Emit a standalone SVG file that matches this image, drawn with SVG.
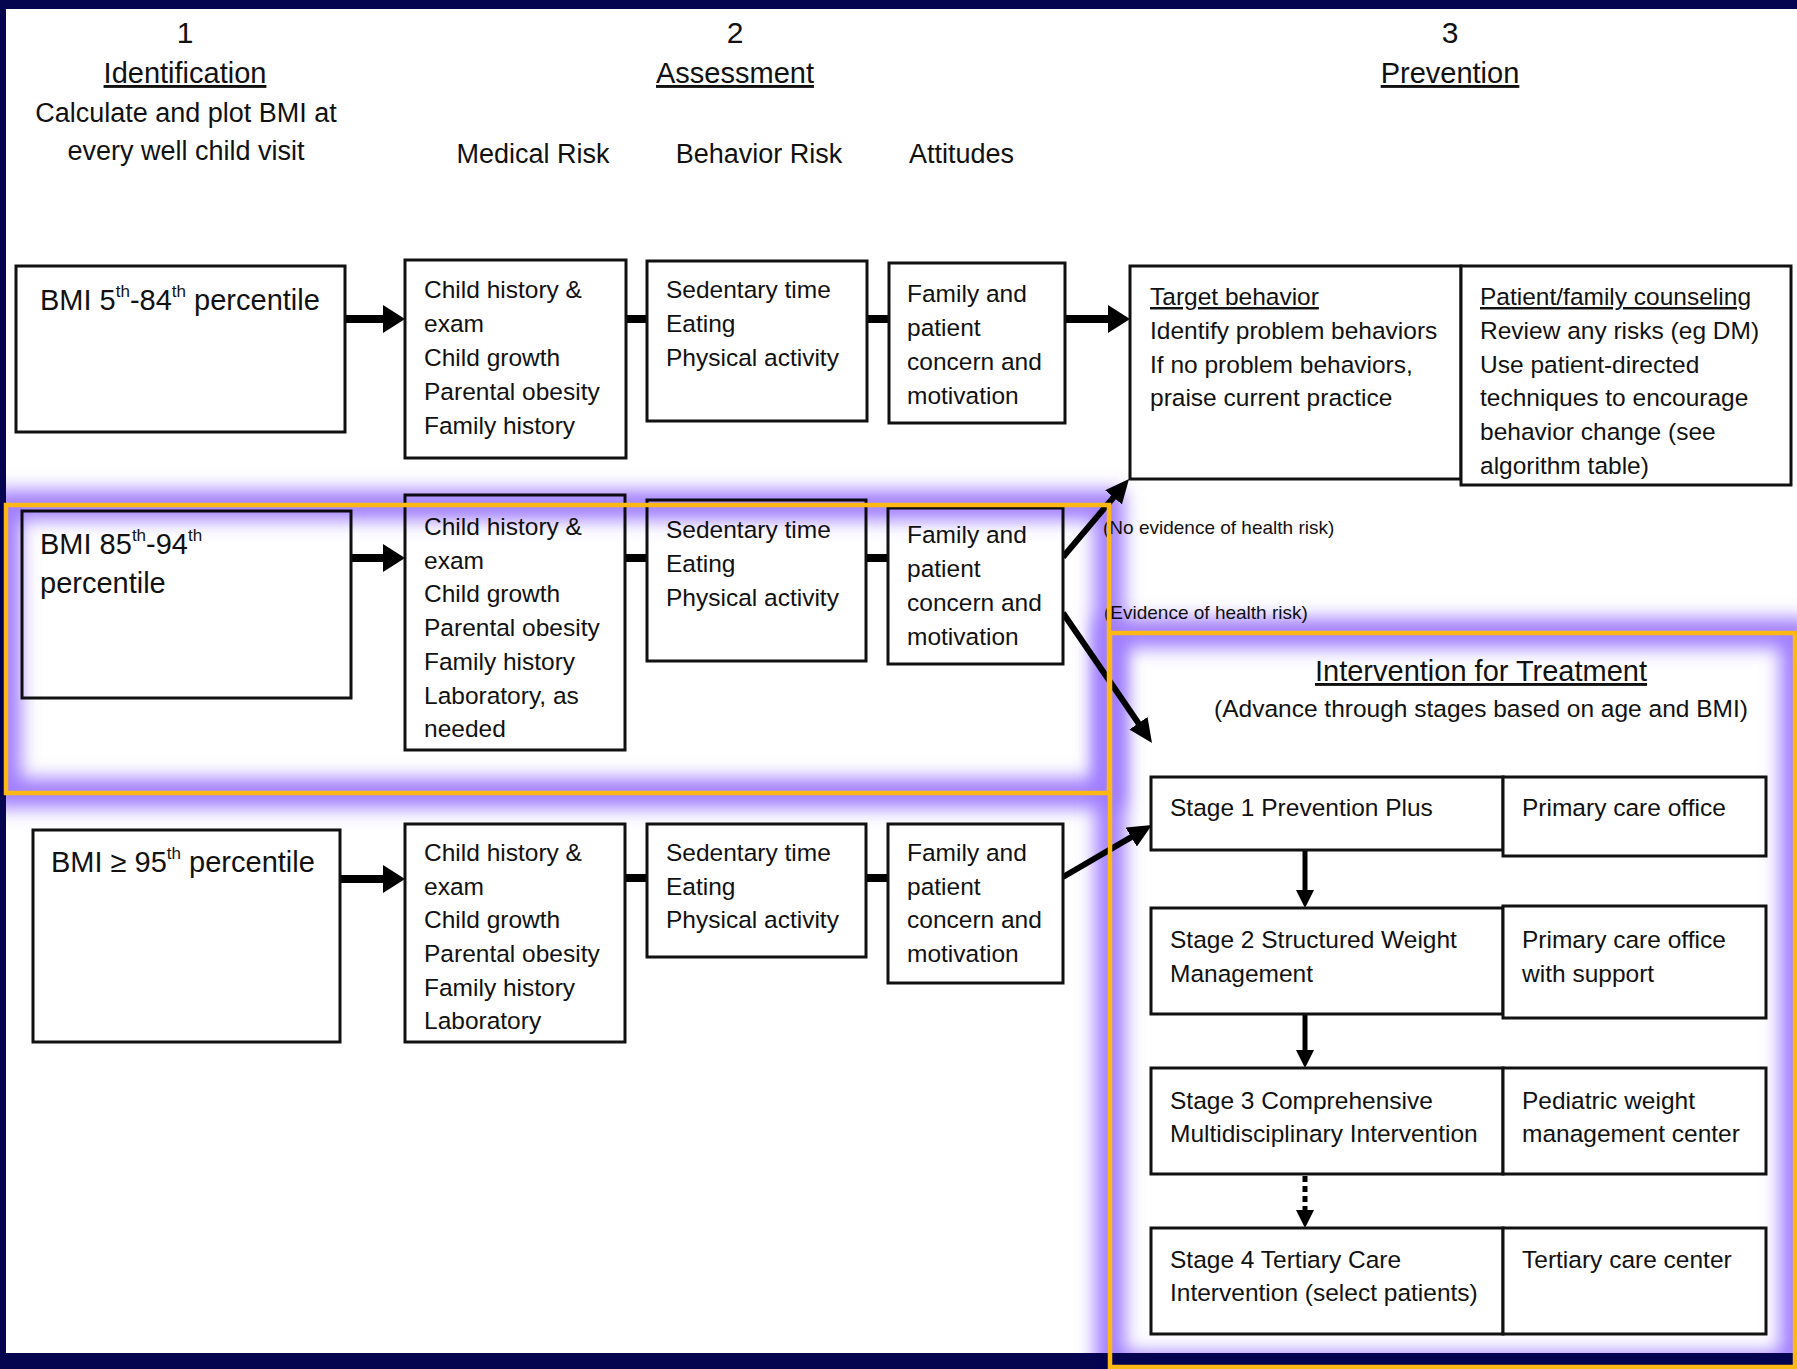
<svg xmlns="http://www.w3.org/2000/svg" width="1797" height="1369" viewBox="0 0 1797 1369">
<style>
text{font-family:"Liberation Sans",Arial,sans-serif;fill:#111}
.num{font-size:30px;text-anchor:middle}
.ttl{font-size:29px;text-anchor:middle;text-decoration:underline}
.sub{font-size:27px;text-anchor:middle}
.col{font-size:27px}
.bmi{font-size:29px}
.sup{font-size:17px}
.b{font-size:24.5px}
.u{text-decoration:underline}
.sm{font-size:19px}
.box{fill:#fff;stroke:#111;stroke-width:3}
.lnk{stroke:#000;fill:none}
.thick{stroke-width:8}
.mid{stroke-width:6}
.thin{stroke-width:5}
.hl{fill:none;stroke:#FDB813;stroke-width:4.5}
.gl{fill:none;stroke:#8f66ff;stroke-width:30}
</style>
<defs>
<marker id="ahL" markerUnits="userSpaceOnUse" viewBox="0 0 24 28" markerWidth="24" markerHeight="28" refX="4" refY="14" orient="auto"><path d="M0,0 L22,14 L0,28 z" fill="#000"/></marker>
<marker id="ahM" markerUnits="userSpaceOnUse" viewBox="0 0 24 22" markerWidth="24" markerHeight="22" refX="4" refY="11" orient="auto"><path d="M0,0 L24,11 L0,22 z" fill="#000"/></marker>
<marker id="ahS" markerUnits="userSpaceOnUse" viewBox="0 0 18 18" markerWidth="18" markerHeight="18" refX="3" refY="9" orient="auto"><path d="M0,0 L18,9 L0,18 z" fill="#000"/></marker>
<filter id="blur" filterUnits="userSpaceOnUse" x="0" y="0" width="1797" height="1369"><feGaussianBlur stdDeviation="9"/></filter>
</defs>

<rect x="0" y="0" width="1797" height="1369" fill="#05044f"/>
<rect x="6" y="9" width="1791" height="1344" fill="#fff"/>

<g id="header">
<text class="num" x="185" y="43">1</text>
<text class="ttl" x="185" y="83">Identification</text>
<text class="sub" x="186" y="122">Calculate and plot BMI at</text>
<text class="sub" x="186" y="160">every well child visit</text>
<text class="num" x="735" y="43">2</text>
<text class="ttl" x="735" y="83">Assessment</text>
<text class="sub" x="533" y="163">Medical Risk</text>
<text class="sub" x="759" y="163">Behavior Risk</text>
<text class="col" x="909" y="163">Attitudes</text>
<text class="num" x="1450" y="43">3</text>
<text class="ttl" x="1450" y="83">Prevention</text>
</g>

<g id="connectors">
<line class="lnk thick" x1="345" y1="319" x2="387" y2="319" marker-end="url(#ahL)"/>
<line class="lnk thick" x1="626" y1="319" x2="647" y2="319"/>
<line class="lnk thick" x1="867" y1="319" x2="889" y2="319"/>
<line class="lnk thick" x1="1065" y1="319" x2="1112" y2="319" marker-end="url(#ahL)"/>
<line class="lnk thick" x1="351" y1="558" x2="387" y2="558" marker-end="url(#ahL)"/>
<line class="lnk thick" x1="625" y1="558" x2="647" y2="558"/>
<line class="lnk thick" x1="866" y1="558" x2="888" y2="558"/>
<line class="lnk thick" x1="340" y1="879" x2="387" y2="879" marker-end="url(#ahL)"/>
<line class="lnk thick" x1="625" y1="878" x2="647" y2="878"/>
<line class="lnk thick" x1="866" y1="878" x2="888" y2="878"/>
<line class="lnk mid" x1="1063" y1="557" x2="1116.1" y2="494.3" marker-end="url(#ahM)"/>
<line class="lnk mid" x1="1063" y1="613" x2="1140.7" y2="726.5" marker-end="url(#ahM)"/>
<line class="lnk mid" x1="1063" y1="877" x2="1134.7" y2="835.1" marker-end="url(#ahM)"/>
<line class="lnk thin" x1="1305" y1="850" x2="1305" y2="893" marker-end="url(#ahS)"/>
<line class="lnk thin" x1="1305" y1="1014" x2="1305" y2="1053" marker-end="url(#ahS)"/>
<line class="lnk thin" x1="1305" y1="1176" x2="1305" y2="1213" stroke-dasharray="6 4" marker-end="url(#ahS)"/>
</g>

<g id="bmi1">
<rect class="box" x="16" y="266" width="329" height="166"/>
<text class="bmi" x="40" y="310">BMI 5<tspan class="sup" dy="-13">th</tspan><tspan dy="13">-84</tspan><tspan class="sup" dy="-13">th</tspan><tspan dy="13"> percentile</tspan></text>
</g>
<g id="med1">
<rect class="box" x="405" y="260" width="221" height="198"/>
<text class="b"><tspan x="424" y="298">Child history &amp;</tspan><tspan x="424" y="332">exam</tspan><tspan x="424" y="366">Child growth</tspan><tspan x="424" y="400">Parental obesity</tspan><tspan x="424" y="434">Family history</tspan></text>
</g>
<g id="beh1">
<rect class="box" x="647" y="261" width="220" height="160"/>
<text class="b"><tspan x="666" y="298">Sedentary time</tspan><tspan x="666" y="332">Eating</tspan><tspan x="666" y="366">Physical activity</tspan></text>
</g>
<g id="att1">
<rect class="box" x="889" y="263" width="176" height="160"/>
<text class="b"><tspan x="907" y="302">Family and</tspan><tspan x="907" y="336">patient</tspan><tspan x="907" y="370">concern and</tspan><tspan x="907" y="404">motivation</tspan></text>
</g>
<g id="target">
<rect class="box" x="1130" y="266" width="331" height="213"/>
<text class="b"><tspan class="u" x="1150" y="305">Target behavior</tspan><tspan x="1150" y="339">Identify problem behaviors</tspan><tspan x="1150" y="373">If no problem behaviors,</tspan><tspan x="1150" y="406">praise current practice</tspan></text>
</g>
<g id="counsel">
<rect class="box" x="1461" y="266" width="330" height="219"/>
<text class="b"><tspan class="u" x="1480" y="305">Patient/family counseling</tspan><tspan x="1480" y="339">Review any risks (eg DM)</tspan><tspan x="1480" y="373">Use patient-directed</tspan><tspan x="1480" y="406">techniques to encourage</tspan><tspan x="1480" y="440">behavior change (see</tspan><tspan x="1480" y="474">algorithm table)</tspan></text>
</g>

<g id="bmi2">
<rect class="box" x="22" y="511" width="329" height="187"/>
<text class="bmi" x="40" y="554">BMI 85<tspan class="sup" dy="-13">th</tspan><tspan dy="13">-94</tspan><tspan class="sup" dy="-13">th</tspan></text>
<text class="bmi" x="40" y="593">percentile</text>
</g>
<g id="med2">
<rect class="box" x="405" y="495" width="220" height="255"/>
<text class="b"><tspan x="424" y="535">Child history &amp;</tspan><tspan x="424" y="569">exam</tspan><tspan x="424" y="602">Child growth</tspan><tspan x="424" y="636">Parental obesity</tspan><tspan x="424" y="670">Family history</tspan><tspan x="424" y="704">Laboratory, as</tspan><tspan x="424" y="737">needed</tspan></text>
</g>
<g id="beh2">
<rect class="box" x="647" y="500" width="219" height="161"/>
<text class="b"><tspan x="666" y="538">Sedentary time</tspan><tspan x="666" y="572">Eating</tspan><tspan x="666" y="606">Physical activity</tspan></text>
</g>
<g id="att2">
<rect class="box" x="888" y="508" width="175" height="156"/>
<text class="b"><tspan x="907" y="543">Family and</tspan><tspan x="907" y="577">patient</tspan><tspan x="907" y="611">concern and</tspan><tspan x="907" y="645">motivation</tspan></text>
</g>
<text class="sm" x="1103" y="534">(No evidence of health risk)</text>
<text class="sm" x="1104" y="619">(Evidence of health risk)</text>

<g id="bmi3">
<rect class="box" x="33" y="830" width="307" height="212"/>
<text class="bmi" x="51" y="872">BMI ≥ 95<tspan class="sup" dy="-13">th</tspan><tspan dy="13"> percentile</tspan></text>
</g>
<g id="med3">
<rect class="box" x="405" y="824" width="220" height="218"/>
<text class="b"><tspan x="424" y="861">Child history &amp;</tspan><tspan x="424" y="895">exam</tspan><tspan x="424" y="928">Child growth</tspan><tspan x="424" y="962">Parental obesity</tspan><tspan x="424" y="996">Family history</tspan><tspan x="424" y="1029">Laboratory</tspan></text>
</g>
<g id="beh3">
<rect class="box" x="647" y="824" width="219" height="133"/>
<text class="b"><tspan x="666" y="861">Sedentary time</tspan><tspan x="666" y="895">Eating</tspan><tspan x="666" y="928">Physical activity</tspan></text>
</g>
<g id="att3">
<rect class="box" x="888" y="824" width="175" height="159"/>
<text class="b"><tspan x="907" y="861">Family and</tspan><tspan x="907" y="895">patient</tspan><tspan x="907" y="928">concern and</tspan><tspan x="907" y="962">motivation</tspan></text>
</g>

<g id="intervention">
<text class="ttl" x="1481" y="681">Intervention for Treatment</text>
<text class="b" x="1481" y="717" text-anchor="middle">(Advance through stages based on age and BMI)</text>
</g>
<g id="stage1">
<rect class="box" x="1151" y="777" width="352" height="73"/>
<rect class="box" x="1503" y="777" width="263" height="79"/>
<text class="b" x="1170" y="816">Stage 1 Prevention Plus</text>
<text class="b" x="1522" y="816">Primary care office</text>
</g>
<g id="stage2">
<rect class="box" x="1151" y="908" width="352" height="106"/>
<rect class="box" x="1503" y="906" width="263" height="112"/>
<text class="b"><tspan x="1170" y="948">Stage 2 Structured Weight</tspan><tspan x="1170" y="982">Management</tspan></text>
<text class="b"><tspan x="1522" y="948">Primary care office</tspan><tspan x="1522" y="982">with support</tspan></text>
</g>
<g id="stage3">
<rect class="box" x="1151" y="1068" width="352" height="106"/>
<rect class="box" x="1503" y="1068" width="263" height="106"/>
<text class="b"><tspan x="1170" y="1109">Stage 3 Comprehensive</tspan><tspan x="1170" y="1142">Multidisciplinary Intervention</tspan></text>
<text class="b"><tspan x="1522" y="1109">Pediatric weight</tspan><tspan x="1522" y="1142">management center</tspan></text>
</g>
<g id="stage4">
<rect class="box" x="1151" y="1228" width="352" height="106"/>
<rect class="box" x="1503" y="1228" width="263" height="106"/>
<text class="b"><tspan x="1170" y="1268">Stage 4 Tertiary Care</tspan><tspan x="1170" y="1301">Intervention (select patients)</tspan></text>
<text class="b" x="1522" y="1268">Tertiary care center</text>
</g>

<g id="highlights">
<g style="mix-blend-mode:multiply" opacity="0.85">
<rect class="gl" x="6" y="505" width="1103" height="288" filter="url(#blur)"/>
<rect class="gl" x="1110" y="633" width="685" height="734" filter="url(#blur)"/>
</g>
<rect class="hl" x="6" y="505" width="1103" height="288"/>
<rect class="hl" x="1110" y="633" width="685" height="734"/>
</g>
</svg>
